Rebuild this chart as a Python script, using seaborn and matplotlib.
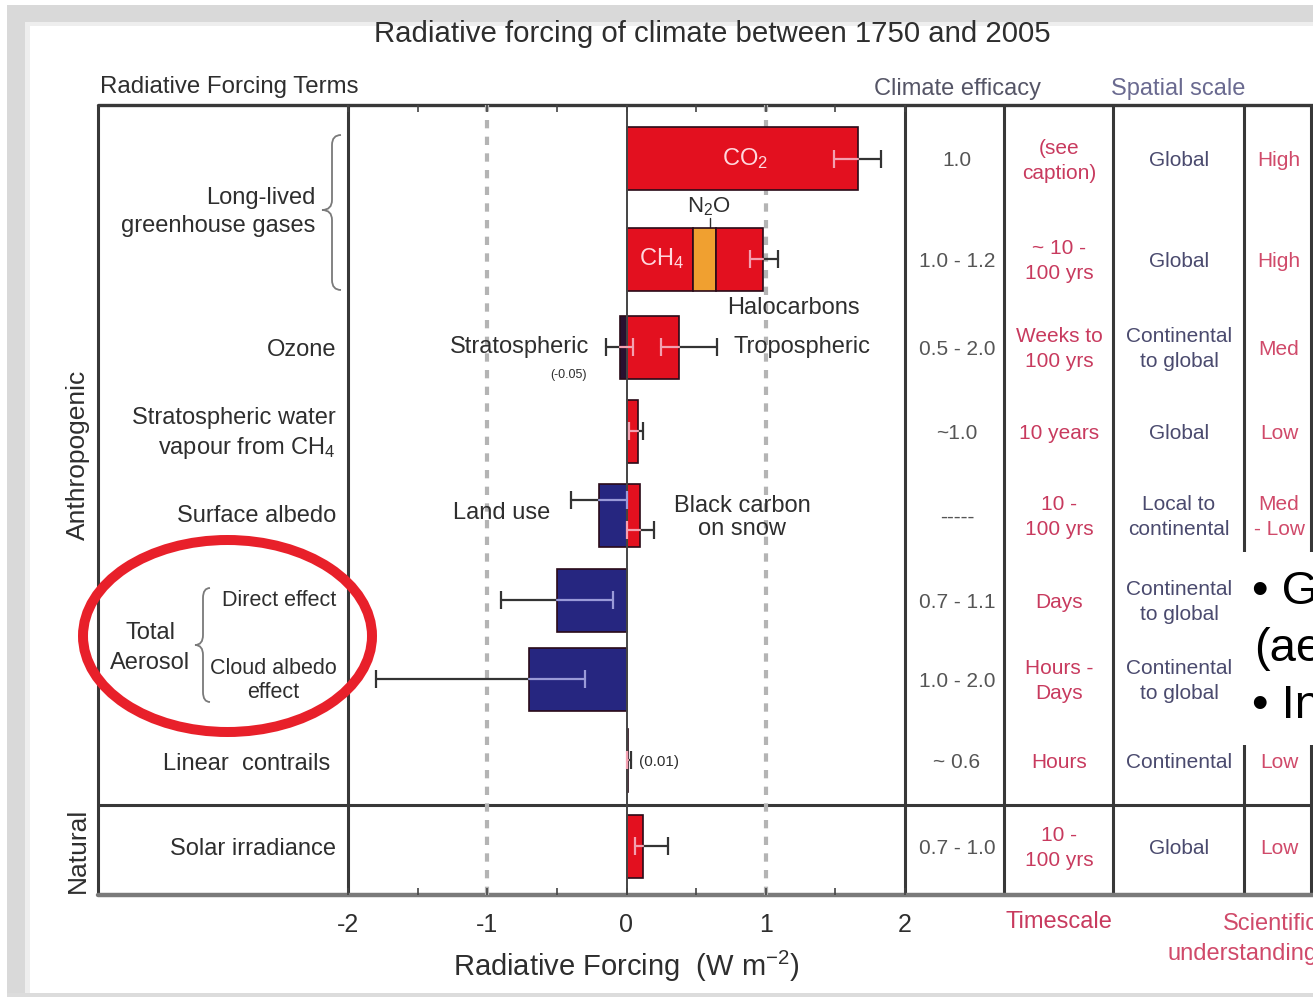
import numpy as np
import pandas as pd
import matplotlib
matplotlib.use("Agg")
import matplotlib.pyplot as plt
import seaborn as sns
from matplotlib.patches import Ellipse, Rectangle, PathPatch
from matplotlib.path import Path

# ------------------------------------------------------------------ data
title = "Radiative forcing of climate between 1750 and 2005"
row_labels = ["Long-lived\ngreenhouse gases", "", "Ozone",
              "Stratospheric water\nvapour from CH$_4$", "Surface albedo",
              "Direct effect", "Cloud albedo\neffect", "Linear  contrails",
              "Solar irradiance"]

seg_terms = ["CO$_2$", "CH$_4$", "N$_2$O", "Halocarbons", "Stratospheric ozone",
             "Tropospheric ozone", "Stratospheric water vapour", "Land use",
             "Black carbon on snow", "Direct effect", "Cloud albedo effect",
             "Linear contrails", "Solar irradiance"]
seg_rows = [0, 1, 1, 1, 2, 2, 3, 4, 4, 5, 6, 7, 8]
seg_values = [1.66, 0.48, 0.16, 0.34, -0.05, 0.38, 0.08, -0.20, 0.10,
              -0.50, -0.70, 0.01, 0.12]
seg_group = ["warm", "warm", "n2o", "warm", "strat", "warm", "warm", "cool",
             "warm", "cool", "cool", "warm", "warm"]

# uncertainty ranges (attached to the end of the given segment)
err_seg = [0, 3, 4, 5, 6, 7, 8, 9, 10, 11, 12]
err_low = [1.49, 0.89, -0.15, 0.25, 0.02, -0.40, 0.00, -0.90, -1.80, 0.003, 0.06]
err_high = [1.83, 1.09, 0.05, 0.65, 0.12, 0.00, 0.20, -0.10, -0.30, 0.03, 0.30]

efficacy = ["1.0", "1.0 - 1.2", "0.5 - 2.0", "~1.0", "-----", "0.7 - 1.1",
            "1.0 - 2.0", "~ 0.6", "0.7 - 1.0"]
timescale = ["(see\ncaption)", "~ 10 -\n100 yrs", "Weeks to\n100 yrs", "10 years",
             "10 -\n100 yrs", "Days", "Hours -\nDays", "Hours", "10 -\n100 yrs"]
spatial = ["Global", "Global", "Continental\nto global", "Global",
           "Local to\ncontinental", "Continental\nto global",
           "Continental\nto global", "Continental", "Global"]
# rows 5 and 6 are hidden behind the slide text box in the picture
understanding = ["High", "High", "Med", "Low", "Med\n- Low", "", "", "Low", "Low"]
x_ticks = [-2, -1, 0, 1, 2]
slide_lines = ["\u2022 G", "(ae", "\u2022 In"]

# ------------------------------------------------------------------ layout / style
W, H = 1313, 997
ROW_Y = [159, 259, 347, 431, 515, 600, 679, 760, 846]
BAR_H = 63
PX0, PX1, PTOP, PBOT = 348, 905, 105, 895
ERR_DY = [0, 0, 0, 0, 0, -15, 15, 0, 0, 0, 0]
COLORS = {"warm": "#e3101f", "n2o": "#f0a030", "strat": "#2a1030", "cool": "#262680"}
EDGE = "#2a0a18"
ERR_DARK = "#333333"
LIGHT = {"warm": "#f3a0b0", "n2o": "#f3a0b0", "strat": "#f3a0b0", "cool": "#9a9ad8"}
TXT = "#2e2e2e"
C_EFF, C_TS, C_SP, C_SCI = "#555555", "#c83a5e", "#4a4a6e", "#d04a6a"
LINE = "#383838"

sns.set_style("white")
plt.rcParams["font.family"] = ["Liberation Sans", "DejaVu Sans"]
plt.rcParams["mathtext.fontset"] = "custom"
plt.rcParams["mathtext.rm"] = "Liberation Sans"
plt.rcParams["mathtext.it"] = "Liberation Sans:italic"
plt.rcParams["mathtext.bf"] = "Liberation Sans:bold"
plt.rcParams["mathtext.default"] = "regular"
plt.rcParams["axes.unicode_minus"] = False

fig = plt.figure(figsize=(W / 100, H / 100), dpi=100)
fig.patch.set_facecolor("white")

bg = fig.add_axes([0, 0, 1, 1])
bg.set_xlim(0, W)
bg.set_ylim(H, 0)
bg.axis("off")
bg.set_zorder(0)

ax = fig.add_axes([PX0 / W, 1 - PBOT / H, (PX1 - PX0) / W, (PBOT - PTOP) / H])
ax.set_zorder(1)
ax.patch.set_alpha(0)

fg = fig.add_axes([0, 0, 1, 1])
fg.set_xlim(0, W)
fg.set_ylim(H, 0)
fg.axis("off")
fg.set_zorder(2)


def mtext(axx, x, y, s, size, color, ha="center", ls=25, **kw):
    lines = s.split("\n")
    n = len(lines)
    for i, line in enumerate(lines):
        if not line:
            continue
        axx.text(x, y + (i - (n - 1) / 2) * ls, line, fontsize=size, color=color,
                 ha=ha, va="center_baseline", **kw)


# ------------------------------------------------------------------ frame
bg.add_patch(Rectangle((7, 5), W, 17, color="#d9d9d9", lw=0))
bg.add_patch(Rectangle((7, 22), W, 4, color="#eeeeee", lw=0))
bg.add_patch(Rectangle((7, 5), 18, H, color="#d9d9d9", lw=0))
bg.add_patch(Rectangle((25, 22), 5, H, color="#eeeeee", lw=0))
bg.add_patch(Rectangle((7, 993), W, 4, color="#dcdcdc", lw=0))

# table lines
for xv in [98, PX0, PX1, 1004, 1113, 1244, 1311]:
    bg.plot([xv, xv], [PTOP, PBOT], color=LINE, lw=2.2, solid_capstyle="butt")
bg.plot([98, W], [PTOP, PTOP], color=LINE, lw=2.4)
bg.plot([98, W], [805, 805], color=LINE, lw=2.2)
bg.plot([98, W], [PBOT, PBOT], color="#7a7a7a", lw=3.2)

# ------------------------------------------------------------------ bars
base = []
for i, v in enumerate(seg_values):
    b = 0.0
    for j in range(i):
        if seg_rows[j] == seg_rows[i] and np.sign(seg_values[j]) == np.sign(v):
            b += seg_values[j]
    base.append(b)

first = [i for i in range(len(seg_terms)) if base[i] == 0]
df = pd.DataFrame({"term": [seg_terms[i] for i in first],
                   "value": [seg_values[i] for i in first],
                   "y": [ROW_Y[seg_rows[i]] for i in first]})
palette = {seg_terms[i]: COLORS[seg_group[i]] for i in first}
native = np.min(np.diff(np.unique(df["y"])))

sns.barplot(data=df, x="value", y="y", hue="term", palette=palette, orient="y",
            native_scale=True, dodge=False, width=BAR_H / native, errorbar=None,
            legend=False, saturation=1, edgecolor=EDGE, linewidth=1.2, ax=ax)

for i in range(len(seg_terms)):
    if base[i] != 0:
        ax.barh(ROW_Y[seg_rows[i]], seg_values[i], left=base[i], height=BAR_H,
                color=COLORS[seg_group[i]], edgecolor=EDGE, linewidth=1.2, zorder=3)

# error bars
for k, si in enumerate(err_seg):
    v = base[si] + seg_values[si]
    yy = ROW_Y[seg_rows[si]] + ERR_DY[k]
    lo, hi = err_low[k], err_high[k]
    outer, inner = (hi, lo) if v >= 0 else (lo, hi)
    ax.plot([v, outer], [yy, yy], color=ERR_DARK, lw=1.6, zorder=5)
    ax.plot([outer], [yy], marker="|", ms=13, mew=1.6, color=ERR_DARK, zorder=5)
    lc = LIGHT[seg_group[si]]
    ax.plot([v, inner], [yy, yy], color=lc, lw=1.6, zorder=5)
    ax.plot([inner], [yy], marker="|", ms=13, mew=1.6, color=lc, zorder=5)

ax.axvline(0, color="#444444", lw=1.4, zorder=2)
for xv in (-1, 1):
    ax.axvline(xv, color="#b4b4b4", lw=3, ls=(0, (2, 2)), zorder=0.5)

ax.set_xlim(-2, 2)
ax.set_ylim(PBOT, PTOP)
ax.set_yticks([])
ax.set_ylabel("")
ax.set_xticks(x_ticks)
ax.set_xticklabels([str(t) for t in x_ticks])
ax.set_xticks(np.arange(-1.5, 2, 1.0), minor=True)
ax.tick_params(axis="x", which="both", direction="in", top=True, bottom=True,
               length=5, width=1.2, color="#444444", labelsize=18, labelcolor=TXT,
               pad=13)
for s in ax.spines.values():
    s.set_visible(False)
ax.set_xlabel("Radiative Forcing  (W m$^{-2}$)", fontsize=21, color=TXT)
ax.xaxis.set_label_coords(0.5, (PBOT - 966) / (PBOT - PTOP))
ax.xaxis.label.set_va("center")

# labels around the bars (data coords)
ax.text(0.85, ROW_Y[0], "CO$_2$", color="#ffd8de", fontsize=17, ha="center",
        va="center", zorder=6)
ax.text(0.25, ROW_Y[1], "CH$_4$", color="#ffd8de", fontsize=17, ha="center",
        va="center", zorder=6)
ax.text(0.59, 207, "N$_2$O", color=TXT, fontsize=16, ha="center", va="center")
ax.plot([0.6, 0.6], [218, 227], color=TXT, lw=1)
ax.text(0.72, 308, "Halocarbons", color=TXT, fontsize=17, ha="left", va="center")
ax.text(-0.27, ROW_Y[2], "Stratospheric", color=TXT, fontsize=17, ha="right",
        va="center")
ax.text(-0.42, 375, "(-0.05)", color=TXT, fontsize=9, ha="center", va="center")
ax.text(0.77, ROW_Y[2], "Tropospheric", color=TXT, fontsize=17, ha="left",
        va="center")
ax.text(-0.545, 513, "Land use", color=TXT, fontsize=17, ha="right", va="center")
ax.text(0.83, 506, "Black carbon", color=TXT, fontsize=17, ha="center",
        va="center")
ax.text(0.83, 529, "on snow", color=TXT, fontsize=17, ha="center", va="center")
ax.text(0.09, 762, "(0.01)", color=TXT, fontsize=11, ha="left", va="center")

# ------------------------------------------------------------------ text (pixel coords)
bg.text(712, 34, title, fontsize=21.2, color=TXT, ha="center", va="center")
bg.text(100, 87, "Radiative Forcing Terms", fontsize=17.3, color=TXT, ha="left",
        va="center")
bg.text(957, 89, "Climate efficacy", fontsize=17, color="#555566", ha="center",
        va="center")
bg.text(1178, 89, "Spatial scale", fontsize=17, color="#6a6a90", ha="center",
        va="center")
bg.text(1059, 922, "Timescale", fontsize=17, color=C_TS, ha="center", va="center")
mtext(bg, 1318, 936, "Scientific\nunderstanding", 17, C_SCI, ha="right", ls=30)

bg.text(78, 455, "Anthropogenic", fontsize=19, color=TXT, rotation=90,
        ha="center", va="center")
bg.text(78, 850, "Natural", fontsize=19, color=TXT, rotation=90, ha="center",
        va="center")

label_pos = [(315, 209, "right", 17, 28), None, (336, 347, "right", 17, 28),
             (336, 430, "right", 17, 29), (336, 513, "right", 17, 28),
             (336, 598, "right", 15.5, 24), (273, 678, "center", 15.5, 24),
             (330, 761, "right", 17, 28), (336, 846, "right", 17, 28)]
for lab, pos in zip(row_labels, label_pos):
    if pos is None or not lab:
        continue
    x, y, ha, size, ls = pos
    mtext(bg, x, y, lab, size, TXT, ha=ha, ls=ls)
mtext(bg, 150, 645, "Total\nAerosol", 17, TXT, ha="center", ls=30)


def brace(axx, x, y0, y1, tip, curl, ym=None):
    ym = (y0 + y1) / 2 if ym is None else ym
    r = 10
    verts = [(x + curl, y0), (x, y0), (x, y0 + r),
             (x, ym - r), (x, ym), (tip, ym),
             (x, ym), (x, ym + r),
             (x, y1 - r), (x, y1), (x + curl, y1)]
    codes = [Path.MOVETO, Path.CURVE3, Path.CURVE3,
             Path.LINETO, Path.CURVE3, Path.CURVE3,
             Path.CURVE3, Path.CURVE3,
             Path.LINETO, Path.CURVE3, Path.CURVE3]
    axx.add_patch(PathPatch(Path(verts, codes), fill=False, ec="#7a7a7a", lw=1.3))


brace(bg, 332, 135, 290, 322, 9, ym=210)
brace(bg, 203, 588, 702, 195, 7, ym=645)

# table cells
COLX = [957, 1059, 1179, 1279]
for r, yv in enumerate(ROW_Y):
    mtext(bg, COLX[0], yv, efficacy[r], 15, C_EFF)
    mtext(bg, COLX[1], yv, timescale[r], 15, C_TS)
    mtext(bg, COLX[2], yv, spatial[r], 15, C_SP)
    mtext(bg, COLX[3], yv, understanding[r], 15, C_SCI)

# ------------------------------------------------------------------ slide overlay
fg.add_patch(Ellipse((227.5, 636), 289, 192, fill=False, ec="#e8202a", lw=7.2))
fg.add_patch(Rectangle((1238, 552), W - 1238 + 5, 193, color="white", lw=0))
for i, s in enumerate(slide_lines):
    fg.text(1252 if i != 1 else 1254, 592 + 57 * i, s, fontsize=34, color="black",
            ha="left", va="center")

fig.savefig("out.png", dpi=100, facecolor="white")
